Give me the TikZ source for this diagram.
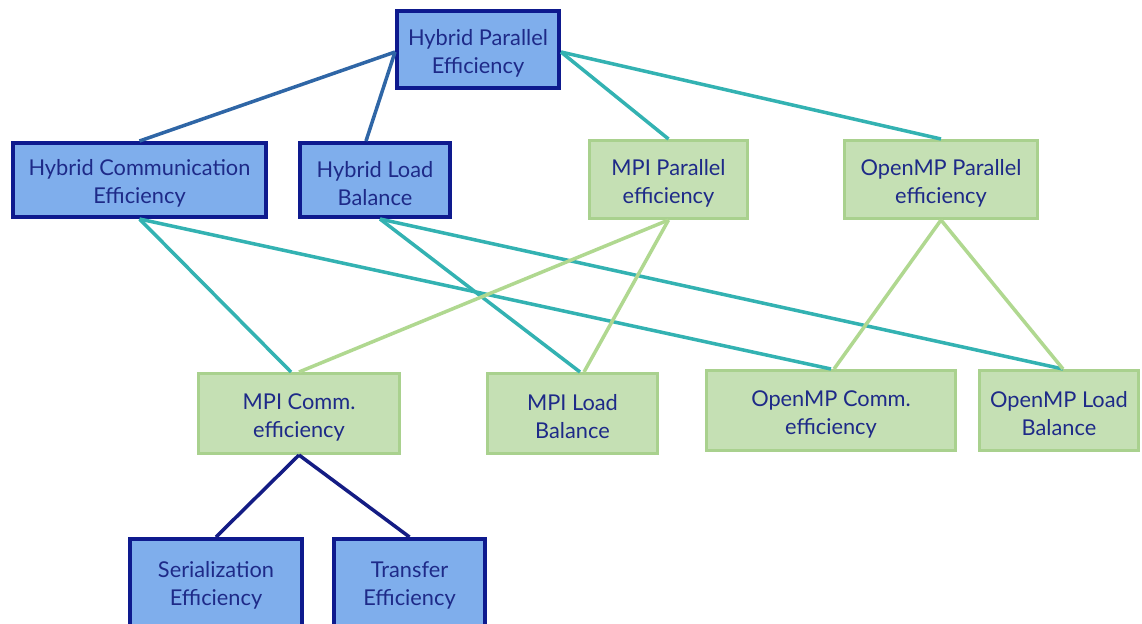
\documentclass[tikz,border=0pt]{standalone}
\usepackage{fontspec}
\setmainfont{Lato}
\definecolor{bluefill}{HTML}{7FAEEC}
\definecolor{blueedge}{HTML}{0E1A8E}
\definecolor{greenfill}{HTML}{C5E0B4}
\definecolor{greenedge}{HTML}{A9D18E}
\definecolor{txt}{HTML}{1E2A88}
\definecolor{steel}{HTML}{2F66A6}
\definecolor{teal}{HTML}{33B2B2}
\definecolor{lgreen}{HTML}{B0D890}
\definecolor{navy}{HTML}{141C84}
\begin{document}
\begin{tikzpicture}[x=0.02cm,y=-0.02cm,
  base/.style={rectangle,inner sep=0pt},
  lbl/.style={align=center,text=txt,font=\fontsize{12.4}{15.9}\selectfont,yshift=-0.07cm},
  bluebox/.style={base,fill=bluefill,draw=blueedge,line width=2.2pt},
  greenbox/.style={base,fill=greenfill,draw=greenedge,line width=1.6pt},
  steelline/.style={draw=steel,line width=2pt},
  tealline/.style={draw=teal,line width=2pt},
  greenline/.style={draw=lgreen,line width=2pt},
  navyline/.style={draw=navy,line width=2pt}]
\useasboundingbox (0,0) rectangle (1142,623);
\newcommand\boxnode[7]{\node[#1,minimum width=#4*0.02cm-#6,minimum height=#5*0.02cm-#6,label={[lbl]center:#7}] (#2) at (#3) {};}
\begin{scope}
\clip (0,0) rectangle (1142,623);
\boxnode{bluebox}{hpe}{478,49.5}{166}{81}{2.2pt}{Hybrid Parallel\\Efficiency}
\boxnode{bluebox}{hce}{139.5,180}{257}{78}{2.2pt}{Hybrid Communication\\Efficiency}
\boxnode{bluebox}{hlb}{375,180}{154}{78}{2.2pt}{Hybrid Load\\Balance}
\boxnode{greenbox}{mpipe}{668.5,179.5}{161}{81}{1.6pt}{MPI Parallel\\efficiency}
\boxnode{greenbox}{omppe}{941,179.5}{196}{81}{1.6pt}{OpenMP Parallel\\efficiency}
\boxnode{greenbox}{mpice}{299,413.5}{204}{83}{1.6pt}{MPI Comm.\\efficiency}
\boxnode{greenbox}{mpilb}{572.5,413.5}{173}{83}{1.6pt}{MPI Load\\Balance}
\boxnode{greenbox}{ompce}{831,410.5}{252}{83}{1.6pt}{OpenMP Comm.\\efficiency}
\boxnode{greenbox}{omplb}{1059,410.5}{162}{83}{1.6pt}{OpenMP Load\\Balance}
\node[bluebox,minimum width=176*0.02cm-2.2pt,minimum height=100*0.02cm-2.2pt] (se) at (216,587) {};
\node[lbl] (selbl) at (216,582) {Serialization\\Efficiency};
\node[bluebox,minimum width=155*0.02cm-2.2pt,minimum height=100*0.02cm-2.2pt] (te) at (409.5,587) {};
\node[lbl] (telbl) at (409.5,582) {Transfer\\Efficiency};
\end{scope}
\draw[steelline] ([yshift=-0.05cm]hpe.west) -- (hce.north);
\draw[steelline] ([yshift=-0.05cm]hpe.west) -- ([xshift=-0.18cm]hlb.north);
\draw[tealline] ([yshift=-0.05cm]hpe.east) -- (mpipe.north);
\draw[tealline] ([yshift=-0.05cm]hpe.east) -- (omppe.north);
\draw[tealline] (hce.south) -- ([xshift=-0.16cm]mpice.north);
\draw[tealline] (hce.south) -- (ompce.north);
\draw[tealline] ([xshift=0.1cm]hlb.south) -- ([xshift=0.15cm]mpilb.north);
\draw[tealline] ([xshift=0.1cm]hlb.south) -- ([xshift=0.08cm]omplb.north);
\draw[greenline] (mpipe.south) -- (mpice.north);
\draw[greenline] (mpipe.south) -- ([xshift=0.23cm]mpilb.north);
\draw[greenline] (omppe.south) -- ([xshift=0.06cm]ompce.north);
\draw[greenline] (omppe.south) -- ([xshift=0.08cm]omplb.north);
\draw[navyline] (mpice.south) -- (se.north);
\draw[navyline] (mpice.south) -- (te.north);
\end{tikzpicture}
\end{document}
